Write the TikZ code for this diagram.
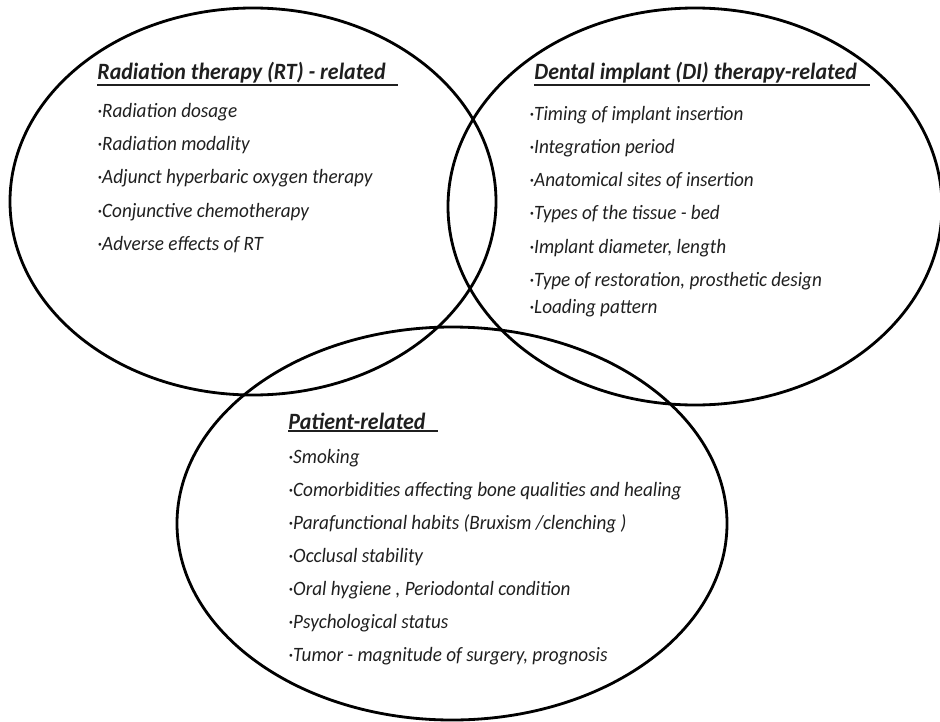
\documentclass[tikz,border=0pt]{standalone}
\usepackage{fontspec}
\setmainfont{Carlito}[FakeStretch=0.94]
\newcommand{\ulhead}[1]{\setbox0\hbox{#1\hspace{0.55em}}\leavevmode\rlap{\raisebox{-\dimexpr\dp0+1.4pt\relax}{\rule{\wd0}{1pt}}}\box0}

\begin{document}
\begin{tikzpicture}[line width=1.6pt,item/.style={anchor=base west, inner sep=0pt, text=black!88, font=\itshape\fontsize{11.6}{14}\selectfont},head/.style={anchor=base west, inner sep=0pt, text=black!88, font=\bfseries\itshape\fontsize{13.3}{16}\selectfont}]
\useasboundingbox (0,0) rectangle (18.8,14.42);
% the three circles
\draw (5.06,10.39) ellipse [x radius=4.86, y radius=3.87];
\draw (13.9,10.29) ellipse [x radius=4.94, y radius=3.97];
\draw (9.04,3.95) ellipse [x radius=5.5, y radius=3.93];
% radiation therapy
\node[head] (rttitle) at (1.92,12.82) {\ulhead{Radiation therapy (RT) - related}};
\foreach \t [count=\i] in {Radiation dosage, Radiation modality, Adjunct hyperbaric oxygen therapy, Conjunctive chemotherapy, Adverse effects of RT}
  \node[item] (rt\i) at (1.92,12.74-0.666*\i) {·\t};
% dental implant
\node[head] (dititle) at (10.66,12.82) {\ulhead{Dental implant (DI) therapy-related}};
\foreach \t [count=\i] in {Timing of implant insertion, Integration period, Anatomical sites of insertion, Types of the tissue - bed, {Implant diameter, length}, {Type of restoration, prosthetic design}}
  \node[item] (di\i) at (10.56,12.68-0.664*\i) {·\t};
\node[item] (di7) at (10.56,8.16) {·Loading pattern};
% patient
\node[head] (pttitle) at (5.74,5.84) {\ulhead{Patient-related}};
\foreach \t [count=\i] in {Smoking, Comorbidities affecting bone qualities and healing, Parafunctional habits (Bruxism /clenching ), Occlusal stability, {Oral hygiene , Periodontal condition}, Psychological status, {Tumor - magnitude of surgery, prognosis}}
  \node[item] (pt\i) at (5.74,5.823-0.663*\i) {·\t};
\end{tikzpicture}
\end{document}
